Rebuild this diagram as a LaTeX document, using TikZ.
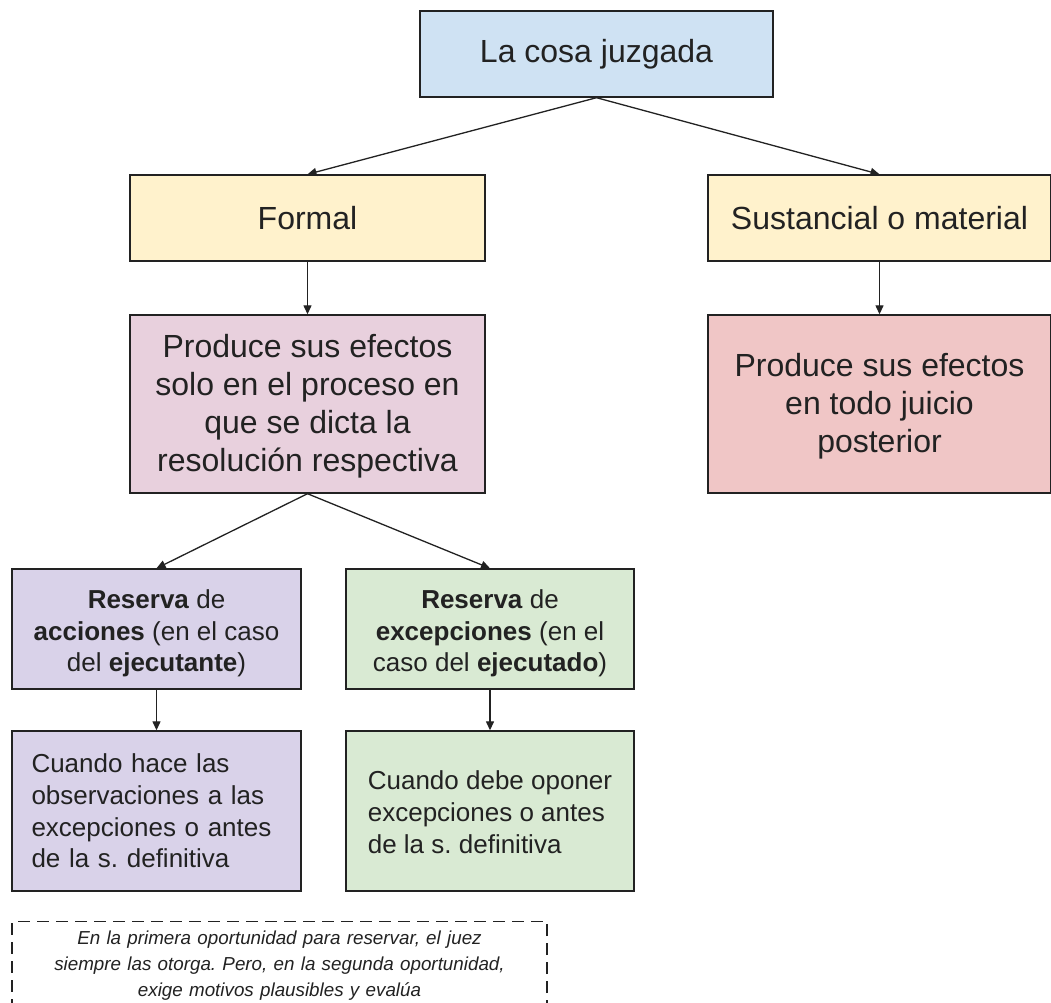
\documentclass[tikz,border=0pt]{standalone}
\usepackage{fontspec}
\setmainfont{Liberation Sans}
\usetikzlibrary{arrows.meta}
\definecolor{cblue}{HTML}{CFE2F3}
\definecolor{cyellow}{HTML}{FFF2CC}
\definecolor{cmagenta}{HTML}{E8D0DD}
\definecolor{cred}{HTML}{F0C6C6}
\definecolor{cpurple}{HTML}{D9D2E9}
\definecolor{cgreen}{HTML}{D9EAD3}
\definecolor{ink}{HTML}{222222}
\newcommand\tgap[1]{\rule{0pt}{#1}}
\frenchspacing
\begin{document}
\begin{tikzpicture}[x=1pt,y=-1pt,
  box/.style={draw=ink, line width=1.4pt, inner sep=0pt, align=center, text=ink},
  big/.style={font=\fontsize{32}{38}\selectfont},
  small/.style={font=\fontsize{26}{31.7}\selectfont},
  leftbox/.style={align=left, text width=250pt, inner xsep=19.5pt},
  note/.style={draw=ink, line width=1.4pt, dash pattern=on 12pt off 7pt, align=center,
    text width=515pt, inner xsep=10pt, inner ysep=9pt, text=ink,
    font=\fontsize{18.8}{26}\selectfont\itshape},
  arr/.style={-{Triangle[length=9pt,width=8pt]}, line width=1.3pt, draw=ink}]
\clip (0,0) rectangle (1051,1002);
\fill[white] (0,0) rectangle (1051,1002);

\node[box,big,fill=cblue,minimum width=353pt,minimum height=86pt] (top) at (596.5,54) {La cosa juzgada};

\node[box,big,fill=cyellow,minimum width=355pt,minimum height=86pt] (formal) at (307.5,218) {Formal};
\node[box,big,fill=cyellow,minimum width=343pt,minimum height=86pt] (sust) at (879.5,218) {Sustancial o material};

\node[box,big,fill=cmagenta,minimum width=355pt,minimum height=178pt] (prodf) at (307.5,404)
  {\tgap{28.5pt}Produce sus efectos\\solo en el proceso en\\que se dicta la\\resolución respectiva};
\node[box,big,fill=cred,minimum width=343pt,minimum height=178pt] (prods) at (879.5,404)
  {\tgap{28pt}Produce sus efectos\\en todo juicio\\posterior};

\node[box,small,fill=cpurple,minimum width=289pt,minimum height=120pt] (resa) at (156.5,629)
  {\tgap{27.5pt}\textbf{Reserva} de\\\textbf{acciones} (en el caso\\del \textbf{ejecutante})};
\node[box,small,fill=cgreen,minimum width=288pt,minimum height=120pt] (rese) at (490,629)
  {\tgap{27.5pt}\textbf{Reserva} de\\\textbf{excepciones} (en el\\caso del \textbf{ejecutado})};

\node[box,small,leftbox,fill=cpurple,minimum width=289pt,minimum height=160pt] (cuana) at (156.5,811)
  {Cuando hace las\\observaciones a las\\excepciones o antes\\de la s. definitiva};
\node[box,small,align=left,fill=cgreen,minimum width=288pt,minimum height=160pt] (cuane) at (490,811)
  {\tgap{21.5pt}Cuando debe oponer\\excepciones o antes\\de la s. definitiva};

\node[note,anchor=north] (nota) at (279.5,921)
  {En la primera oportunidad para reservar, el juez\\siempre las otorga. Pero, en la segunda oportunidad,\\exige motivos plausibles y evalúa};

\draw[arr] (top.south) -- (formal.north);
\draw[arr] (top.south) -- (sust.north);
\draw[arr] (formal.south) -- (prodf.north);
\draw[arr] (sust.south) -- (prods.north);
\draw[arr] (prodf.south) -- (resa.north);
\draw[arr] (prodf.south) -- (rese.north);
\draw[arr] (resa.south) -- (cuana.north);
\draw[arr] (rese.south) -- (cuane.north);
\end{tikzpicture}
\end{document}
